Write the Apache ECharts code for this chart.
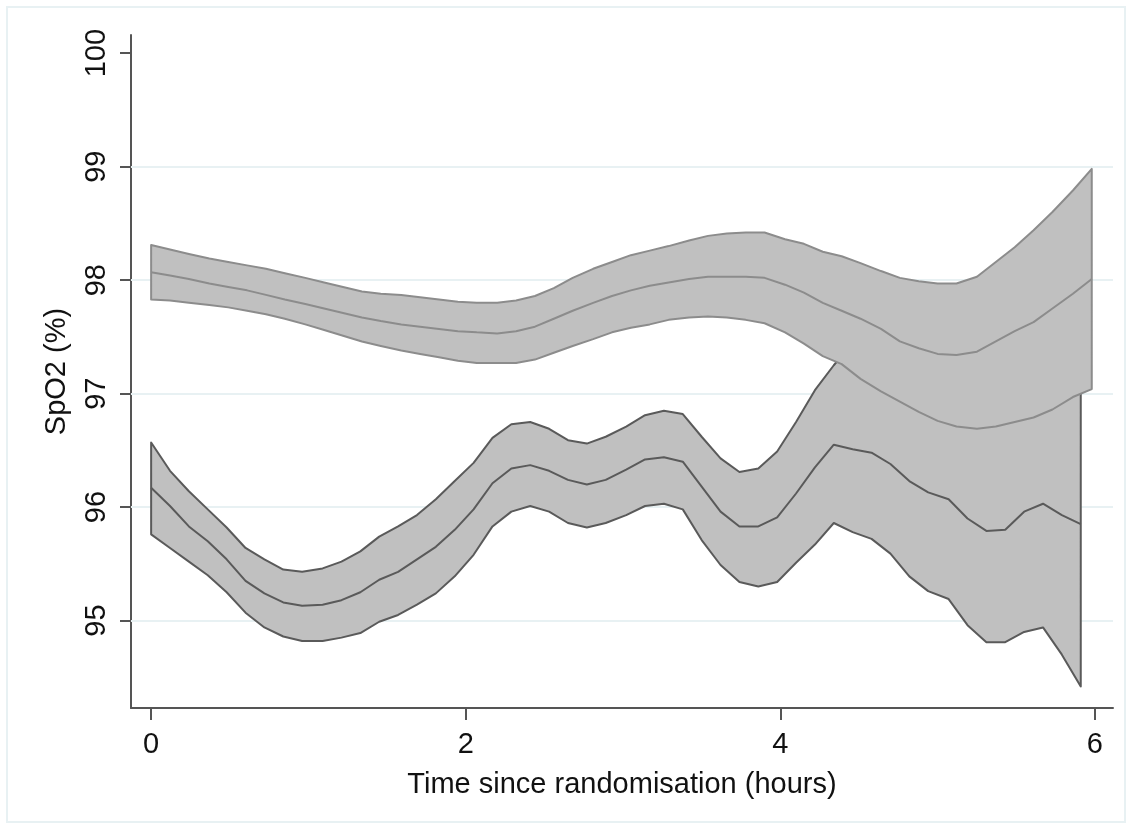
<!DOCTYPE html>
<html>
<head>
<meta charset="utf-8">
<script src="https://cdn.jsdelivr.net/npm/echarts@6/dist/echarts.min.js"></script>
<style>
  html, body { margin: 0; padding: 0; background: #fff; }
  #chart { width: 1133px; height: 829px; }
</style>
</head>
<body>
<div id="chart"></div>
<script>
// time points (hours) of the two fitted curves
const tLow = [0, 0.12, 0.24, 0.36, 0.48, 0.60, 0.72, 0.84, 0.96, 1.09, 1.21, 1.33, 1.45, 1.57, 1.69, 1.81, 1.93,
  2.05, 2.17, 2.29, 2.41, 2.53, 2.65, 2.77, 2.89, 3.02, 3.14, 3.26, 3.38, 3.50, 3.62, 3.74, 3.86, 3.98,
  4.10, 4.22, 4.34, 4.46, 4.58, 4.70, 4.82, 4.94, 5.07, 5.19, 5.31, 5.43, 5.55, 5.67, 5.79, 5.91];
const tHigh = [0, 0.12, 0.24, 0.37, 0.49, 0.61, 0.73, 0.85, 0.98, 1.10, 1.22, 1.34, 1.46, 1.59, 1.71, 1.83, 1.95,
  2.07, 2.20, 2.32, 2.44, 2.56, 2.68, 2.81, 2.93, 3.05, 3.17, 3.29, 3.42, 3.54, 3.66, 3.78, 3.90, 4.03,
  4.15, 4.27, 4.39, 4.51, 4.64, 4.76, 4.88, 5.00, 5.12, 5.25, 5.37, 5.49, 5.61, 5.73, 5.86, 5.98];

// lower group: mean SpO2 and 95% CI
const lowMean = [96.17, 96.01, 95.83, 95.70, 95.54, 95.35, 95.24, 95.16, 95.13, 95.14, 95.18, 95.25, 95.36, 95.43,
  95.54, 95.65, 95.80, 95.98, 96.21, 96.34, 96.37, 96.32, 96.24, 96.20, 96.24, 96.33, 96.42, 96.44, 96.40,
  96.18, 95.96, 95.83, 95.83, 95.91, 96.12, 96.35, 96.55, 96.51, 96.48, 96.38, 96.23, 96.13, 96.07, 95.90,
  95.79, 95.80, 95.96, 96.03, 95.93, 95.85];
const lowLo = [95.76, 95.64, 95.52, 95.40, 95.25, 95.07, 94.94, 94.86, 94.82, 94.82, 94.85, 94.89, 94.99, 95.05,
  95.14, 95.24, 95.39, 95.58, 95.83, 95.96, 96.01, 95.96, 95.86, 95.82, 95.86, 95.93, 96.01, 96.03, 95.98,
  95.71, 95.49, 95.34, 95.30, 95.34, 95.51, 95.67, 95.86, 95.78, 95.72, 95.59, 95.39, 95.26, 95.19, 94.96,
  94.81, 94.81, 94.90, 94.94, 94.70, 94.42];
const lowHi = [96.57, 96.32, 96.14, 95.98, 95.82, 95.64, 95.54, 95.45, 95.43, 95.46, 95.52, 95.61, 95.74, 95.83,
  95.93, 96.07, 96.23, 96.39, 96.61, 96.73, 96.75, 96.69, 96.59, 96.56, 96.62, 96.71, 96.81, 96.85, 96.82,
  96.62, 96.43, 96.31, 96.34, 96.49, 96.75, 97.03, 97.25, 97.45, 97.50, 97.50, 97.45, 97.40, 97.35, 97.30,
  97.30, 97.30, 97.35, 97.45, 97.55, 97.60];

// upper group: mean SpO2 and 95% CI
const highMean = [98.07, 98.04, 98.01, 97.97, 97.94, 97.91, 97.87, 97.83, 97.79, 97.75, 97.71, 97.67, 97.64, 97.61,
  97.59, 97.57, 97.55, 97.54, 97.53, 97.55, 97.59, 97.66, 97.73, 97.80, 97.86, 97.91, 97.95, 97.98, 98.01,
  98.03, 98.03, 98.03, 98.02, 97.96, 97.89, 97.80, 97.73, 97.66, 97.57, 97.46, 97.40, 97.35, 97.34, 97.37,
  97.46, 97.55, 97.63, 97.75, 97.88, 98.01];
const highLo = [97.83, 97.82, 97.80, 97.78, 97.76, 97.73, 97.70, 97.66, 97.61, 97.56, 97.51, 97.46, 97.42, 97.38,
  97.35, 97.32, 97.29, 97.27, 97.27, 97.27, 97.30, 97.36, 97.42, 97.48, 97.54, 97.58, 97.61, 97.65, 97.67,
  97.68, 97.67, 97.65, 97.62, 97.54, 97.44, 97.33, 97.26, 97.13, 97.02, 96.93, 96.84, 96.76, 96.71, 96.69,
  96.71, 96.75, 96.79, 96.86, 96.97, 97.04];
const highHi = [98.31, 98.27, 98.23, 98.19, 98.16, 98.13, 98.10, 98.06, 98.02, 97.98, 97.94, 97.90, 97.88, 97.87,
  97.85, 97.83, 97.81, 97.80, 97.80, 97.82, 97.86, 97.93, 98.02, 98.10, 98.16, 98.22, 98.26, 98.30, 98.35,
  98.39, 98.41, 98.42, 98.42, 98.36, 98.32, 98.25, 98.21, 98.15, 98.08, 98.02, 97.99, 97.97, 97.97, 98.03,
  98.16, 98.29, 98.44, 98.60, 98.79, 98.98];

const xTicks = [0, 2, 4, 6];
const yTicks = [95, 96, 97, 98, 99, 100];
const yGrid = [95, 96, 97, 98, 99];

const FONT = 'Liberation Sans';
const FS = 29;
const BAND = '#c0c0c0';

// band polygon: upper limit left->right then lower limit right->left
const bandSeries = (t, lo, hi, edge) => ({
  type: 'custom',
  coordinateSystem: 'cartesian2d',
  data: t.map((x, i) => [x, lo[i], hi[i]]),
  encode: { x: 0, y: [1, 2] },
  renderItem: (params, api) => {
    if (params.dataIndex !== 0) return null;
    const pts = [];
    for (let i = 0; i < t.length; i++) pts.push(api.coord([t[i], hi[i]]));
    for (let i = t.length - 1; i >= 0; i--) pts.push(api.coord([t[i], lo[i]]));
    return {
      type: 'polygon',
      shape: { points: pts },
      style: { fill: BAND, stroke: edge, lineWidth: 2, lineJoin: 'round' },
    };
  },
  silent: true,
});

const meanSeries = (t, m, color) => ({
  type: 'line',
  data: t.map((x, i) => [x, m[i]]),
  symbol: 'none',
  lineStyle: { color, width: 2 },
  silent: true,
});

const chart = echarts.init(document.getElementById('chart'));

// horizontal grid lines behind the bands
const gridLines = {
  type: 'line',
  data: [],
  silent: true,
  markLine: {
    silent: true,
    symbol: 'none',
    z: 1,
    label: { show: false },
    lineStyle: { color: '#e8f1f3', width: 2, type: 'solid' },
    data: yGrid.map((v) => ({ yAxis: v })),
  },
};

chart.setOption({
  animation: false,
  graphic: [{
    type: 'rect',
    shape: { x: 7, y: 7, width: 1118, height: 815 },
    style: { fill: 'none', stroke: '#e8f1f3', lineWidth: 2 },
    silent: true,
  }],
  grid: { left: 131, right: 20, top: 35, bottom: 121 },
  xAxis: {
    type: 'value',
    min: -0.128,
    max: 6.115,
    name: 'Time since randomisation (hours)',
    nameLocation: 'middle',
    nameGap: 62,
    nameTextStyle: { fontFamily: FONT, fontSize: FS, color: '#111', lineHeight: FS },
    axisLine: { show: true, onZero: false, lineStyle: { color: '#555', width: 2 } },
    axisTick: { show: true, customValues: xTicks, length: 12, lineStyle: { color: '#555', width: 2 } },
    axisLabel: { customValues: xTicks, margin: 22, fontFamily: FONT, fontSize: FS, color: '#111', lineHeight: FS },
    splitLine: { show: false },
  },
  yAxis: {
    type: 'value',
    min: 94.23,
    max: 100.16,
    name: 'SpO2 (%)',
    nameLocation: 'middle',
    nameGap: 60,
    nameRotate: 90,
    nameTextStyle: { fontFamily: FONT, fontSize: FS, color: '#111', lineHeight: FS },
    axisLine: { show: true, onZero: false, lineStyle: { color: '#555', width: 2 } },
    axisTick: { show: true, customValues: yTicks, length: 11, lineStyle: { color: '#555', width: 2 } },
    axisLabel: { customValues: yTicks, rotate: 90, margin: 20, fontFamily: FONT, fontSize: FS, color: '#111', lineHeight: FS },
    splitLine: { show: false },
  },
  series: [
    gridLines,
    bandSeries(tLow, lowLo, lowHi, '#5a5a5a'),
    meanSeries(tLow, lowMean, '#5a5a5a'),
    bandSeries(tHigh, highLo, highHi, '#8c8c8c'),
    meanSeries(tHigh, highMean, '#8c8c8c'),
  ],
});
</script>
</body>
</html>
